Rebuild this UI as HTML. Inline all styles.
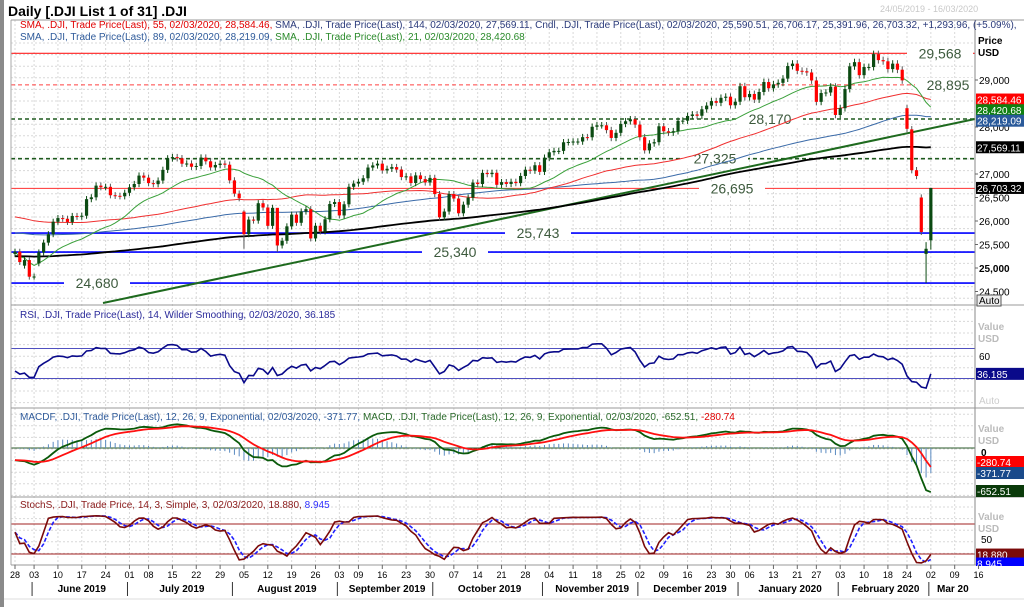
<!DOCTYPE html>
<html><head><meta charset="utf-8">
<style>
html,body{margin:0;padding:0;background:#fff;}
svg{display:block;font-family:"Liberation Sans",sans-serif;}
</style></head>
<body>
<svg id="chart" width="1024" height="607" viewBox="0 0 1024 607">
  <rect x="0" y="0" width="1024" height="607" fill="#fff"/>
  <rect x="0" y="0" width="4" height="607" fill="#8a8a8a"/>
  <text x="8" y="16" font-size="14" font-weight="bold" fill="#000">Daily [.DJI List 1 of 31] .DJI</text>
  <text x="880" y="12" font-size="9" fill="#c8c8c8">24/05/2019 - 16/03/2020</text>
  <g id="grid"></g>
  <g id="levels"></g>
  <g id="main"></g>
  <g id="rsi"></g>
  <g id="macd"></g>
  <g id="stoch"></g>
  <g id="axes"></g>
  <g font-size="10">
    <text x="20" y="28"><tspan fill="#e00000">SMA, .DJI, Trade Price(Last),  55, 02/03/2020, 28,584.46, </tspan><tspan fill="#2a3a7a">SMA, .DJI, Trade Price(Last),  144, 02/03/2020, 27,569.11, </tspan><tspan fill="#2a3a7a">Cndl, .DJI, Trade Price(Last), 02/03/2020, 25,590.51, 26,706.17, 25,391.96, 26,703.32, +1,293.96, (+5.09%),</tspan></text>
    <text x="20" y="40"><tspan fill="#2e5a9a">SMA, .DJI, Trade Price(Last),  89, 02/03/2020, 28,219.09, </tspan><tspan fill="#2a8a2a">SMA, .DJI, Trade Price(Last),  21, 02/03/2020, 28,420.68</tspan></text>
  </g>
  <text x="20" y="318" font-size="10" fill="#2a2a9a">RSI, .DJI, Trade Price(Last),  14, Wilder Smoothing, 02/03/2020, 36.185</text>
  <text x="20" y="420" font-size="10" fill="#2e5a9a">MACDF, .DJI, Trade Price(Last),  12, 26, 9, Exponential, 02/03/2020, -371.77, <tspan fill="#2a6a2a">MACD, .DJI, Trade Price(Last),  12, 26, 9, Exponential, 02/03/2020, -652.51, </tspan><tspan fill="#e00000">-280.74</tspan></text>
  <text x="20" y="508" font-size="10" fill="#8a1a1a">StochS, .DJI, Trade Price,  14, 3, Simple, 3, 02/03/2020, 18.880, <tspan fill="#3030ff">8.945</tspan></text>
</svg>
<script>
// ---- data ----
const closes = [25347,25126,25169,24815,
24819,25332,25540,25720,25984,26062,26048,25980,26107,26090,26112,26465,26504,26753,26719,26727,26548,26536,26526,26600,
26717,26787,26966,26922,26806,26784,26860,27088,27332,27359,27335,27219,27223,27154,27171,27349,27270,27140,27192,27221,27198,26864,
26583,26485,25718,26030,26008,26378,26287,25897,26280,25479,25579,25886,26136,25962,26202,26252,25629,25899,25778,26036,26362,26403,
26118,26355,26728,26797,26835,26909,27137,27182,27220,27076,27111,27147,27095,26935,26950,26808,26970,26891,26820,26917,
26573,26078,26201,26573,26478,26164,26347,26497,26817,26787,27024,26998,27026,26770,26827,26788,26834,26806,26958,27091,27071,27186,27046,
27347,27462,27492,27492,27675,27681,27691,27691,27784,27782,28005,28036,28036,27934,27767,27876,28066,28122,28164,28051,
27783,27503,27650,27677,28015,27909,27881,27911,28132,28135,28235,28267,28239,28377,28455,28551,28515,28621,28645,28462,28538,
28868,28634,28703,28583,28745,28957,28824,28907,28940,29030,29297,29348,29196,29186,29160,28990,28535,28723,28734,28859,28256,
28400,28807,29290,29380,29103,29276,29276,29551,29423,29398,29232,29348,29219,28992,27961,27081,26957,25766,25409,
26703];
const gapIdx   = [2,5,48,187,188,190,191,192];
const gapOpens = [25050,25100,26200,28400,27950,26500,25300,25590];
const extIdx   = [191,192,48,55];
const extLows  = [24681,25392,25410,25340];
const extHighs = [25550,26706,26230,25900];
const levelVals   = [29568,28895,28170,27325,26695,25743,25340,24680];
const levelLabels = ["29,568","28,895","28,170","27,325","26,695","25,743","25,340","24,680"];
const priceTicks  = [29000,28000,27000,26500,26000,25500,25000,24500];
const holidays = ["2019-07-04","2019-09-02","2019-11-28","2019-12-25","2020-01-01","2020-01-20","2020-02-17"];
const monthNames = ["June 2019","July 2019","August 2019","September 2019","October 2019","November 2019","December 2019","January 2020","February 2020","Mar 20"];
const prior144 = 25250, prior89 = 25750, prior55 = 26100;

// ---- helpers ----
const NS="http://www.w3.org/2000/svg";
function mk(parent,tag,attrs){const e=document.createElementNS(NS,tag);for(const k in attrs)e.setAttribute(k,attrs[k]);parent.appendChild(e);return e;}
const X0=11, X1=975;
const xs = i => 15 + i*4.77;
const yP = v => 80 + (29000-v)*0.047;
const yR = v => 356 - (v-60)*0.75;
const yM = v => 448 - v*0.0675;
const yS = v => 539 - (v-50)*0.5;

const dates=[];
{let d=new Date(Date.UTC(2019,4,28));const end=Date.UTC(2020,2,20);
 while(d.getTime()<=end){const w=d.getUTCDay();const s=d.toISOString().slice(0,10);
  if(w!==0&&w!==6&&holidays.indexOf(s)<0)dates.push(new Date(d.getTime()));
  d=new Date(d.getTime()+86400000);}}

const N=closes.length;
const opens=[],highs=[],lows=[];
for(let i=0;i<N;i++){
  let o=i>0?closes[i-1]:25300; const gi=gapIdx.indexOf(i); if(gi>=0)o=gapOpens[gi];
  opens.push(o);
  let h=Math.max(o,closes[i])*1.0025, l=Math.min(o,closes[i])*0.9975;
  const ei=extIdx.indexOf(i); if(ei>=0){l=extLows[ei];h=extHighs[ei];}
  highs.push(h);lows.push(l);
}
function sma(n,prior){return closes.map((c,i)=>{let s=0;for(let k=i-n+1;k<=i;k++)s+=k>=0?closes[k]:prior;return s/n;});}
function sma2(n){return closes.map((c,i)=>{let s=0,m=0;for(let k=Math.max(0,i-n+1);k<=i;k++){s+=closes[k];m++;}return s/m;});}
function ema(arr,n){const a=2/(n+1);const o=[];arr.forEach((v,i)=>o.push(i?o[i-1]+a*(v-o[i-1]):v));return o;}

// ---- grid ----
const grid=document.getElementById('grid');
for(let y=43;y<565;y+=11.6){mk(grid,'line',{x1:X0,x2:X1,y1:y,y2:y,stroke:'#d8d8d8','stroke-dasharray':'2,2','stroke-width':1});}
const tickIdx=[];
dates.forEach((d,i)=>{const prev=dates[i-1];if(i===0||d.getUTCDay()<prev.getUTCDay()||(d-prev)>3*86400000)tickIdx.push(i);});
tickIdx.forEach(i=>{mk(grid,'line',{x1:xs(i),x2:xs(i),y1:20,y2:565,stroke:'#d8d8d8','stroke-dasharray':'2,2','stroke-width':1});});

// ---- levels ----
const lv=document.getElementById('levels');
const lvColor=['#ff2020','#ff4040','#1e5a1e','#1e5a1e','#ff3030','#0000ff','#0000ff','#0000ff'];
const lvDash=['','4,3','4,3','4,3','','','',''];
const lvW=[1.2,1,1.6,1.6,1,1.6,1.6,1.6];
const lvLabelX=[940,948,770,715,732,538,455,97];
levelVals.forEach((v,i)=>{
  const l=mk(lv,'line',{x1:X0,x2:X1,y1:yP(v),y2:yP(v),stroke:lvColor[i],'stroke-width':lvW[i]});
  if(lvDash[i])l.setAttribute('stroke-dasharray',lvDash[i]);
  
  
  mk(lv,'rect',{x:lvLabelX[i]-33,y:yP(v)-7,width:66,height:14,fill:'#fff'});
  const t=mk(lv,'text',{x:lvLabelX[i],y:yP(v)+5,'font-size':14,fill:'#3d5a3d','text-anchor':'middle'});
  t.textContent=levelLabels[i];
  
  
});
const tl=mk(lv,'line',{x1:103,y1:303,x2:975,y2:119,stroke:'#1e6a1e','stroke-width':2});



// ---- main ----
const main=document.getElementById('main');
function poly(g,arr,yf,color,w,name,dash){
  const p=mk(g,'polyline',{points:arr.map((v,i)=>xs(i).toFixed(1)+','+yf(v).toFixed(1)).join(' '),fill:'none',stroke:color,'stroke-width':w});
  if(dash)p.setAttribute('stroke-dasharray',dash);
  
  
  return p;
}
poly(main,sma(144,prior144),yP,'#000',1.8,'sma-144');
poly(main,sma(89,prior89),yP,'#3a6aa8',1,'sma-89');
poly(main,sma(55,prior55),yP,'#f03030',1,'sma-55');
poly(main,sma2(21),yP,'#3aa03a',1,'sma-21');
for(let i=0;i<N;i++){
  const up=closes[i]>=opens[i]; const col=up?'#0b4a12':'#ff0000';
  const x=xs(i);
  const w=mk(main,'line',{x1:x,x2:x,y1:yP(highs[i]),y2:yP(lows[i]),stroke:up?'#0b4a12':'#555','stroke-width':1});
  
  
  const top=yP(Math.max(opens[i],closes[i])),bot=yP(Math.min(opens[i],closes[i]));
  const b=mk(main,'rect',{x:x-1.6,y:top,width:3.2,height:Math.max(1,bot-top),fill:col});
  
  
}

// ---- RSI ----
const rsiG=document.getElementById('rsi');
[70,30].forEach(v=>mk(rsiG,'line',{x1:X0,x2:X1,y1:yR(v),y2:yR(v),stroke:'#5050c0','stroke-width':1}));
const rsiVals=[];
{let ag=0,al=0;for(let i=0;i<N;i++){
  if(i===0){rsiVals.push(40);ag=60;al=90;continue;}
  const d=closes[i]-closes[i-1];const g=Math.max(d,0),l=Math.max(-d,0);
  ag=(ag*13+g)/14;al=(al*13+l)/14;rsiVals.push(100-100/(1+ag/al));}}
poly(rsiG,rsiVals,yR,'#0a0a8a',1.6,'rsi-line');

// ---- MACD ----
const macdG=document.getElementById('macd');
mk(macdG,'line',{x1:X0,x2:X1,y1:yM(0),y2:yM(0),stroke:'#2a5a2a','stroke-width':1});
const e12=ema(closes,12), e26=ema(closes,26);
const macdLine=closes.map((c,i)=>e12[i]-e26[i]-(i<30?(30-i)*6:0));
const signal=ema(macdLine,9);
macdLine.forEach((m,i)=>{const h=m-signal[i];
  const b=mk(macdG,'line',{x1:xs(i),x2:xs(i),y1:yM(0),y2:yM(h),stroke:'#5a8ac0','stroke-width':1});
  
  });
poly(macdG,macdLine,yM,'#0a5a0a',1.8,'macd-line');
poly(macdG,signal,yM,'#ff1010',1.8,'macd-signal-line');

// ---- Stoch ----
const stG=document.getElementById('stoch');
[80,20].forEach(v=>mk(stG,'line',{x1:X0,x2:X1,y1:yS(v),y2:yS(v),stroke:'#a02020','stroke-width':1}));
const rawK=closes.map((c,i)=>{let hh=-1e9,ll=1e9;for(let k=Math.max(0,i-13);k<=i;k++){hh=Math.max(hh,highs[k]);ll=Math.min(ll,lows[k]);}return hh>ll?100*(c-ll)/(hh-ll):50;});
const sm3=a=>a.map((v,i)=>{let s=0,m=0;for(let k=Math.max(0,i-2);k<=i;k++){s+=a[k];m++;}return s/m;});
const kS=sm3(rawK), dS=sm3(kS);
poly(stG,dS,yS,'#2020ff',1.6,'stoch-d-line','4,2');
poly(stG,kS,yS,'#7a0a0a',1.6,'stoch-k-line');

// ---- axes ----
const ax=document.getElementById('axes');
mk(ax,'rect',{x:X1,y:20,width:49,height:545,fill:'#fff'});
mk(ax,'line',{x1:X1,x2:X1,y1:20,y2:565,stroke:'#888','stroke-width':1});
mk(ax,'line',{x1:X0,x2:X0,y1:20,y2:565,stroke:'#aaa','stroke-width':1});
[20,305,408,497,565].forEach(y=>mk(ax,'line',{x1:X0,x2:1024,y1:y,y2:y,stroke:'#999','stroke-width':1}));
function txt(x,y,s,sz,fill,bold,name,anchor){const t=mk(ax,'text',{x:x,y:y,'font-size':sz,fill:fill});if(bold)t.setAttribute('font-weight','bold');if(anchor)t.setAttribute('text-anchor',anchor);t.textContent=s;
  
  return t;}
txt(978,44,'Price',10,'#000',true,'price-axis-title');
txt(978,56,'USD',10,'#000',true,'price-axis-unit');
priceTicks.forEach(v=>{mk(ax,'line',{x1:X1,x2:X1+3,y1:yP(v),y2:yP(v),stroke:'#666'});txt(979,yP(v)+4,v.toLocaleString('en-US'),10,'#000',v===25000,'price-tick');});
function box(y,s,bg,fg,name){mk(ax,'rect',{x:X1+1,y:y-6,width:48,height:12,fill:bg});txt(977,y+4,s,10,fg,false,name);}
box(yP(28584.46),'28,584.46','#ff0000','#fff','sma55-value-box');
box(yP(28420.68)+3,'28,420.68','#108010','#fff','sma21-value-box');
box(yP(28219.09)+4,'28,219.09','#2a5a9a','#fff','sma89-value-box');
box(yP(27569.11),'27,569.11','#000','#fff','sma144-value-box');
box(yP(26703.32),'26,703.32','#000','#fff','last-price-box');
mk(ax,'rect',{x:X1+2,y:295,width:24,height:11,fill:'#eee',stroke:'#555'});
txt(979,304,'Auto',10,'#000',false,'auto-scale-button');
txt(978,330,'Value',10,'#bbb',true,'rsi-axis-title');txt(978,342,'USD',10,'#bbb',true,'rsi-axis-unit');
txt(979,yR(60)+4,'60',10,'#000',false,'rsi-tick');
box(yR(36.185),'36.185','#0a0a8a','#fff','rsi-value-box');
txt(979,404,'Auto',10,'#ccc',false,'rsi-auto');
txt(978,432,'Value',10,'#bbb',true,'macd-axis-title');txt(978,444,'USD',10,'#bbb',true,'macd-axis-unit');
txt(981,yM(0)+8,'0',10,'#000',true,'macd-zero-tick');
box(462,'-280.74','#ff0000','#fff','signal-value-box');
box(473,'-371.77','#1a4a8a','#fff','macdf-value-box');
box(491,'-652.51','#0a3a0a','#fff','macd-value-box');
txt(978,520,'Value',10,'#bbb',true,'stoch-axis-title');txt(978,532,'USD',10,'#bbb',true,'stoch-axis-unit');
txt(981,yS(50)+4,'50',10,'#000',false,'stoch-tick');
box(yS(18.88),'18.880','#7a0a0a','#fff','stoch-k-box');
box(yS(8.945)+4,'8.945','#0000ff','#fff','stoch-d-box');
// date axis
mk(ax,'rect',{x:4,y:566,width:1020,height:41,fill:'#fff'});
mk(ax,'line',{x1:4,x2:1024,y1:599,y2:599,stroke:'#ddd'});
tickIdx.forEach(i=>{const x=xs(i);mk(ax,'line',{x1:x,x2:x,y1:565,y2:569,stroke:'#666'});
  txt(x,578,String(dates[i].getUTCDate()).padStart(2,'0'),9,'#000',false,'date-tick','middle');});
const monthStart=[];dates.forEach((d,i)=>{if(i>0&&d.getUTCMonth()!==dates[i-1].getUTCMonth())monthStart.push(i);});
monthStart.forEach((b,k)=>{
  mk(ax,'line',{x1:xs(b)-2,x2:xs(b)-2,y1:582,y2:596,stroke:'#333'});
  if(k<monthNames.length){
    const e=k+1<monthStart.length?monthStart[k+1]:b+14;
    const cx=k===monthNames.length-1?xs(b)+22:(xs(b)+xs(e))/2;
    txt(cx,592,monthNames[k],10,'#000',true,'month-label','middle');}
});
</script>
</body></html>
